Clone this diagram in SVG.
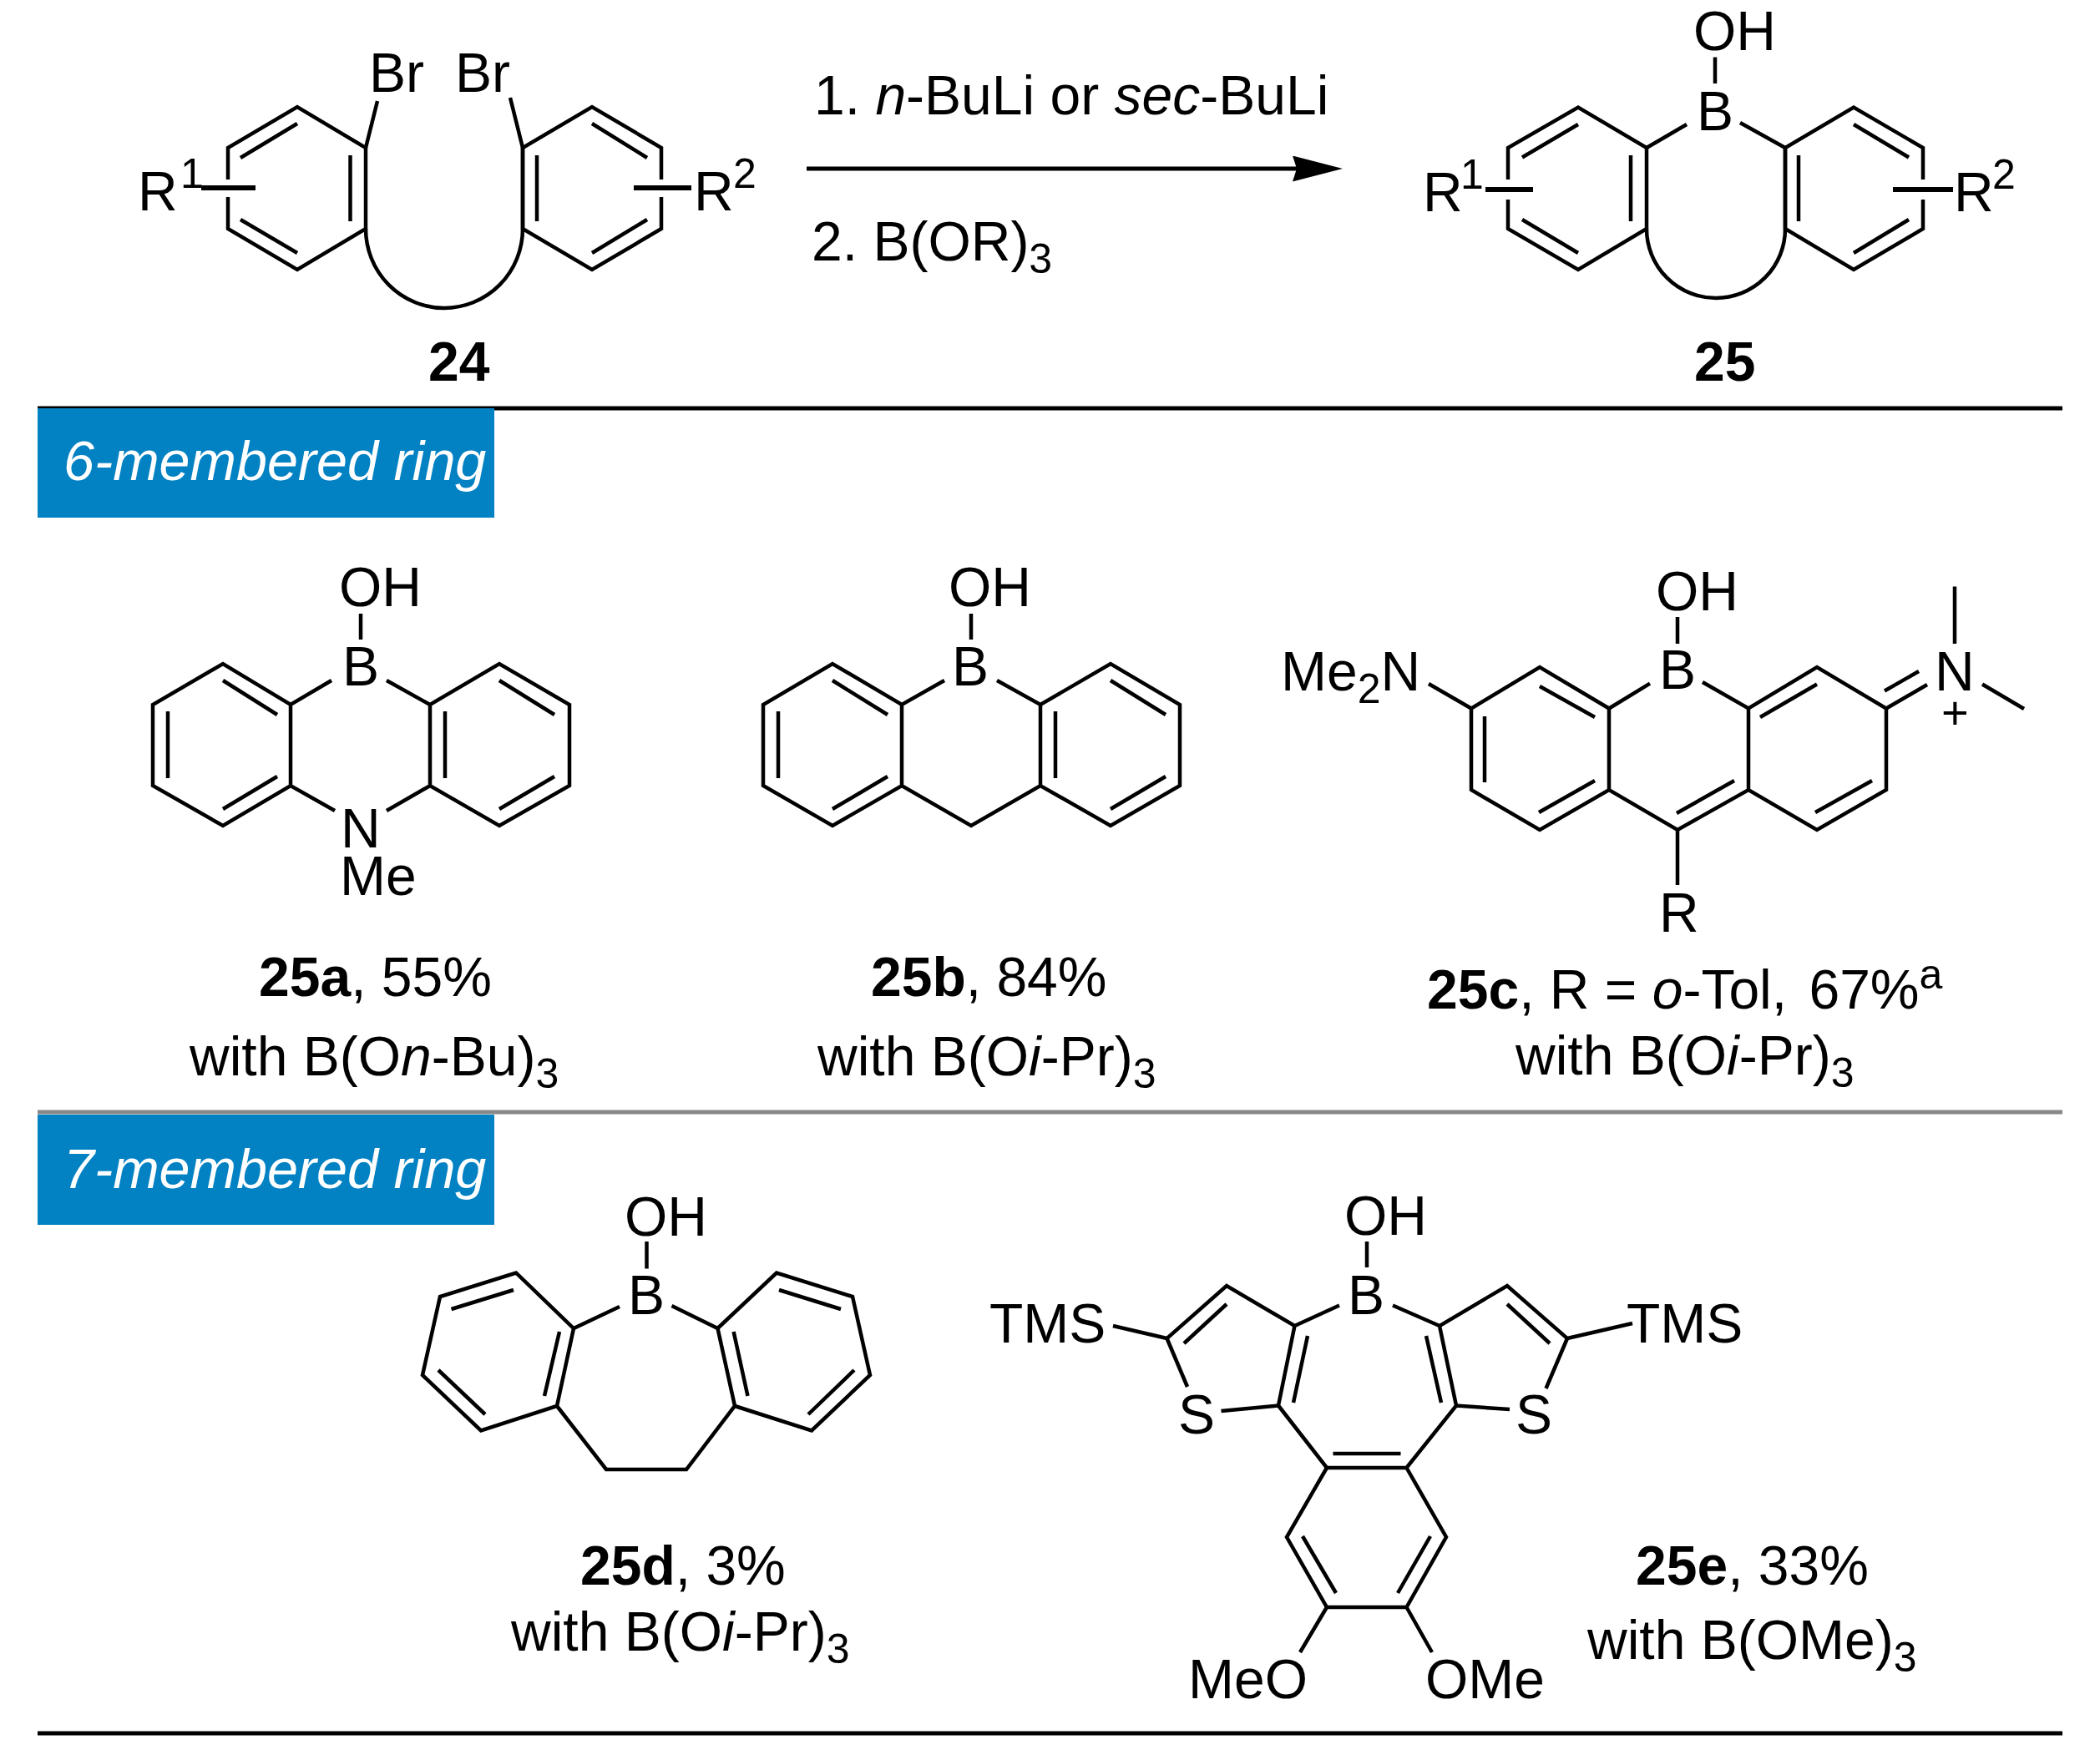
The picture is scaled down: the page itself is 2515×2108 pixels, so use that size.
<svg xmlns="http://www.w3.org/2000/svg" width="2515" height="2108" viewBox="0 0 2515 2108">
<style>
text{font-family:"Liberation Sans",Arial,sans-serif;font-size:66px;fill:#000}
.b{fill:none;stroke:#000;stroke-width:4.5;stroke-linejoin:miter;stroke-linecap:butt}
.t{stroke-width:6}
.hk{stroke:#000;stroke-width:5}
.hg{stroke:#888;stroke-width:5}
.tag{fill:#0281c3}
.w{fill:#fff;font-style:italic;font-size:66.500px}
.i{font-style:italic}
.bd{font-weight:700}
.s{font-size:50px}
.p{font-size:56px}
</style>
<defs>
<marker id="ah" markerUnits="userSpaceOnUse" viewBox="0 0 60 31" refX="5" refY="15.5" markerWidth="60" markerHeight="31" orient="auto"><path d="M0,0L60,15.5L0,31L5,15.5Z" fill="#000"/></marker>
</defs>
<rect width="2515" height="2108" fill="#fff"/>
<g id="rules">
<line class="hk" x1="45" y1="489" x2="2470" y2="489"/>
<line class="hg" x1="45" y1="1332" x2="2470" y2="1332"/>
<line class="hk" x1="45" y1="2076" x2="2470" y2="2076"/>
</g>
<g id="tag-6">
<rect class="tag" x="45" y="489" width="547" height="131"/>
<text class="w" x="76" y="575">6-membered ring</text>
</g>
<g id="tag-7">
<rect class="tag" x="45" y="1335" width="547" height="132"/>
<text class="w" x="76" y="1423">7-membered ring</text>
</g>
<g id="connectors">
<line x1="966" y1="202" x2="1553" y2="202" stroke="#000" stroke-width="5" marker-end="url(#ah)"/>
<text x="975" y="137">1. <tspan class="i">n</tspan>-BuLi or <tspan class="i">sec</tspan>-BuLi</text>
<text x="972" y="312">2. B(OR)<tspan class="s" dy="15">3</tspan></text>
</g>
<g id="n24">
<path class="b" d="M273,215V177L356,128L438,177V274L356,323L273,274V236"/>
<path class="b" d="M792,215V177L709,128L626,177V274L709,323L792,274V236"/>
<path class="b" d="M438,274A94,95 0 0 0 626,274V177"/>
<path class="b" d="M438,177L452,121M626,177L611,117M419.500,186V265M356,148L288,189M288,263L356,303M643,186V265M709,148L775,189M775,263L709,303"/>
<path class="b t" d="M241,225H306M759,225H828"/>
<text x="442" y="110">Br</text><text x="545" y="110">Br</text>
<text x="165" y="252">R</text><text class="s" x="216" y="225">1</text>
<text x="831" y="252">R</text><text class="s" x="878" y="225">2</text>
<text class="bd" x="513" y="456">24</text>
</g>
<g id="n25">
<path class="b" d="M1806,215V177L1890,128.500L1972,177V274L1890,323L1806,274V239"/>
<path class="b" d="M2303,215V177L2220,128.500L2138,177V274L2220,323L2303,274V239"/>
<path class="b" d="M1972,274A83,83 0 0 0 2138,274V177"/>
<path class="b" d="M2054,68.500V100M1972,177L2020,149M2138,177L2084,147M1953,186V265M2154,186V265M1890,149L1823,188.500M1823,263L1890,303M2220,149L2286,188.500M2286,263L2220,303"/>
<path class="b t" d="M1779,227H1836M2267,227H2339"/>
<text x="2028" y="60">OH</text><text x="2032" y="156">B</text>
<text x="1704" y="253">R</text><text class="s" x="1749" y="226">1</text>
<text x="2340" y="253">R</text><text class="s" x="2386" y="226">2</text>
<text class="bd" x="2029" y="456">25</text>
</g>
<g id="n25a">
<path class="b" d="M397,815L348,844L267,795L183,844V941L267,989L348,941L401,971M348,844V941M463,815L515,844L598,795L682,844V941L598,989L515,941L463,971M515,844V941"/>
<path class="b" d="M432,735V766M201,852V932M267,815L332,856M267,969L332,930M533,852V932M598,815L664,856M664,930L598,969"/>
<text x="406" y="726">OH</text><text x="410" y="821">B</text><text x="408" y="1015">N</text><text x="407" y="1072">Me</text>
<text x="310" y="1193"><tspan class="bd">25a</tspan>, 55%</text>
<text x="227" y="1288">with B(O<tspan class="i">n</tspan>-Bu)<tspan class="s" dy="15">3</tspan></text>
</g>
<g id="n25b">
<path class="b" d="M1131,815L1080,844L997,795L914,844V941L997,989L1080,941L1163,989L1246,941L1330,989L1413,941V844L1330,795L1246,844L1194,815M1080,844V941M1246,844V941"/>
<path class="b" d="M1163,735V766M932,852V932M997,815L1063,856M1063,930L997,969M1264,852V932M1330,815L1396,856M1396,930L1330,969"/>
<text x="1136" y="726">OH</text><text x="1140" y="821">B</text>
<text x="1043" y="1193"><tspan class="bd">25b</tspan>, 84%</text>
<text x="979" y="1288">with B(O<tspan class="i">i</tspan>-Pr)<tspan class="s" dy="15">3</tspan></text>
</g>
<g id="n25c">
<path class="b" d="M1976,818.600L1927,848.500L1844,799L1762,848.500V946L1844,994L1927,946L2009,994L2094,946L2176,994L2259,946V848.500L2176,799L2094,848.500L2039,817M1927,848.500V946M2094,848.500V946M1762,848.500L1711,819"/>
<path class="b" d="M2009,739V771M2009,994V1060M2259,848.500L2308,820M2257,827.500L2298,804M2341,702.500V771M2374,819.500L2424,849M1778,858V937M1844,822L1910,859M1910,935L1843,973M2008,974L2077,935M2176,819.500L2108,859M2242,935L2174,973"/>
<text x="1983" y="731">OH</text><text x="1987" y="825">B</text>
<text x="1534" y="827">Me<tspan class="s" dy="15">2</tspan><tspan dy="-15">N</tspan></text>
<text x="2317" y="827">N</text><text class="p" x="2325" y="873">+</text>
<text x="1987" y="1116">R</text>
<text x="1709" y="1208"><tspan class="bd">25c</tspan>, R = <tspan class="i">o</tspan>-Tol, <tspan dx="8">67%</tspan><tspan class="s" dy="-24">a</tspan></text>
<text x="1815" y="1287">with B(O<tspan class="i">i</tspan>-Pr)<tspan class="s" dy="15">3</tspan></text>
</g>
<g id="n25d">
<path class="b" d="M742,1565L687,1591L618,1524.500L527,1553L506,1647L576,1713.500L667,1684L687,1591M667,1684L726,1760H822L880,1684L972,1713.500L1042,1647L1021,1553L930,1524.500L859.500,1591L804.500,1564M859.500,1591L880,1684"/>
<path class="b" d="M774.500,1487V1519.500M670,1595L652,1672M615,1545L540.500,1568M525,1641L581,1694M878.600,1595L895.500,1672M933,1545L1007,1568M1023,1641L968,1694"/>
<text x="748" y="1480">OH</text><text x="752" y="1574">B</text>
<text x="695" y="1898"><tspan class="bd">25d</tspan>, 3%</text>
<text x="612" y="1977">with B(O<tspan class="i">i</tspan>-Pr)<tspan class="s" dy="15">3</tspan></text>
</g>
<g id="n25e">
<path class="b" d="M1604,1563.500L1550.500,1588L1469,1540L1397.500,1603L1422,1661M1550.500,1588L1531,1683.500L1462.500,1690M1531,1683.500L1589,1758H1684.500L1744,1683.500L1808,1688M1744,1683.500L1724,1588L1805,1540L1877,1603L1851.500,1663M1724,1588L1668,1563.500"/>
<path class="b" d="M1589,1758L1541,1841L1589,1925H1684.500L1732,1841L1684.500,1758"/>
<path class="b" d="M1637,1487V1518M1397.500,1603L1333,1588M1877,1603L1955,1585M1589,1925L1557,1979M1684.500,1925L1715,1979M1596.500,1741H1677.500M1566,1600L1549,1680M1708,1600L1726,1680M1469,1562L1418,1609M1805,1562L1856,1609M1560,1840L1600,1908M1713,1840L1674,1908"/>
<text x="1610" y="1479">OH</text><text x="1614" y="1574">B</text>
<text x="1185" y="1608">TMS</text><text x="1948" y="1608">TMS</text>
<text x="1411" y="1717">S</text><text x="1815" y="1717">S</text>
<text x="1423" y="2034">MeO</text><text x="1707" y="2034">OMe</text>
<text x="1959" y="1898"><tspan class="bd">25e</tspan>, 33%</text>
<text x="1901" y="1987">with B(OMe)<tspan class="s" dy="15">3</tspan></text>
</g>
</svg>
